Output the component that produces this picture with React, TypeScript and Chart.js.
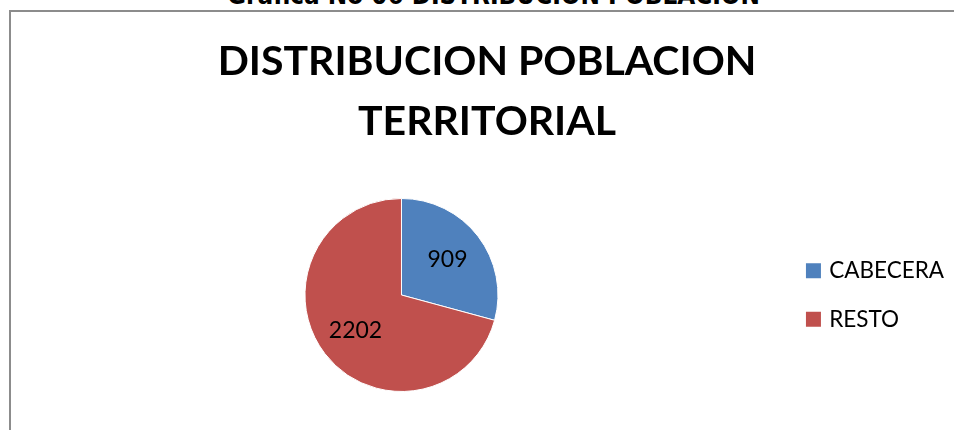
import React, { useEffect, useRef } from "react";
import { Chart, registerables } from "chart.js";

Chart.register(...registerables);

const categories = ["CABECERA", "RESTO"];
const values = [909, 2202];
const colors = ["#4F81BD", "#C0504D"];
const titleLines = ["DISTRIBUCION POBLACION", "TERRITORIAL"];
const caption = "Grafica No 06 DISTRIBUCION POBLACION";

const sliceLabels = {
  id: "sliceLabels",
  afterDatasetsDraw(chart: any) {
    const ctx = chart.ctx;
    const meta = chart.getDatasetMeta(0);
    const data = chart.data.datasets[0].data;
    ctx.save();
    ctx.font = "23px Lato";
    ctx.fillStyle = "#000";
    ctx.textAlign = "center";
    ctx.textBaseline = "middle";
    meta.data.forEach((arc: any, i: number) => {
      const p = arc.getProps(["x", "y", "startAngle", "endAngle", "outerRadius"], true);
      const mid = (p.startAngle + p.endAngle) / 2;
      const r = p.outerRadius * 0.6;
      ctx.fillText(String(data[i]), p.x + Math.cos(mid) * r, p.y + Math.sin(mid) * r);
    });
    ctx.restore();
  },
};

export default function App() {
  const ref = useRef<HTMLCanvasElement>(null);
  useEffect(() => {
    if (!ref.current) return;
    const chart = new Chart(ref.current, {
      type: "pie",
      data: {
        labels: categories,
        datasets: [
          {
            data: values,
            backgroundColor: colors,
            borderColor: "#ffffff",
            borderWidth: 1,
          },
        ],
      },
      options: {
        animation: false,
        responsive: false,
        maintainAspectRatio: false,
        layout: { padding: { left: 9, right: 0, top: 0, bottom: 38 } },
        plugins: {
          title: {
            display: true,
            text: titleLines,
            color: "#000",
            font: { family: "Lato", weight: "bold", size: 41, lineHeight: 60 / 41 },
            padding: { top: 20, bottom: 46 },
          },
          legend: {
            position: "right",
            fullSize: false,
            labels: {
              color: "#000",
              font: { family: "Lato", size: 22.5 },
              usePointStyle: true,
              pointStyle: "rect",
              boxWidth: 9,
              boxHeight: 15,
              padding: 26,
              generateLabels: (c: any) =>
                (Chart as any).overrides.pie.plugins.legend.labels
                  .generateLabels(c)
                  .map((l: any) => ({ ...l, lineWidth: 0, strokeStyle: "rgba(0,0,0,0)", pointStyle: "rect" })),
            },
          },
          tooltip: { enabled: false },
        },
      },
      plugins: [sliceLabels],
    });
    return () => chart.destroy();
  }, []);

  return (
    <div style={{ position: "fixed", left: 0, top: 0, width: 954, height: 430, overflow: "hidden", background: "#fff" }}>
      <div
        style={{
          position: "absolute",
          left: 0,
          width: 954,
          top: -17,
          textAlign: "center",
          fontFamily: "'Liberation Sans Narrow', 'DejaVu Sans Condensed', 'Liberation Sans', Arial, sans-serif",
          fontWeight: "bold",
          fontSize: 25.8,
          lineHeight: "25.8px",
          color: "#000",
          paddingLeft: 33,
          boxSizing: "border-box",
          whiteSpace: "nowrap",
        }}
      >
        {caption}
      </div>
      <div
        style={{
          position: "absolute",
          left: 9,
          top: 10,
          width: 1000,
          height: 500,
          border: "2px solid #8c8c8c",
        }}
      />
      <div style={{ position: "absolute", left: 11, top: 12, width: 943, height: 418 }}>
        <canvas ref={ref} width={943} height={418} style={{ display: "block" }} />
      </div>
    </div>
  );
}
